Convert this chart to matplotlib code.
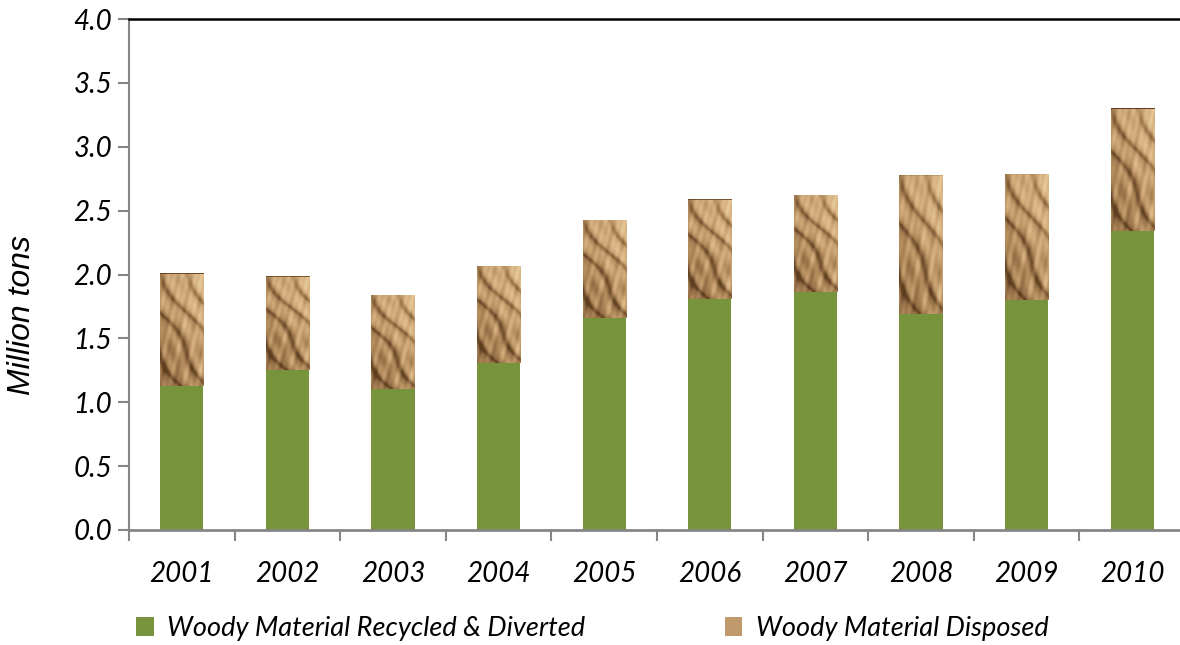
import matplotlib.pyplot as plt
import numpy as np
from matplotlib.colors import LinearSegmentedColormap
from matplotlib.patches import Patch

years = ['2001', '2002', '2003', '2004', '2005', '2006', '2007', '2008', '2009', '2010']
recycled = [1.13, 1.255, 1.10, 1.31, 1.66, 1.81, 1.865, 1.69, 1.80, 2.34]
disposed = [0.88, 0.73, 0.74, 0.76, 0.77, 0.78, 0.76, 1.09, 0.99, 0.96]

green = '#77933C'
grey = '#868686'
tick_font = 'Lato'

# wood-chip style texture for the disposed part of each bar
ty, tx = np.mgrid[0:1:120j, 0:1:45j]
phase = tx - 1.75 * ty + 0.12 * np.sin(9 * ty)
dark = np.exp(-(np.sin(np.pi * 1.6 * phase) / 0.35) ** 2)
base = 0.66 - 0.32 * ty + 0.22 * tx
lumps = 0.14 * np.sin(19 * tx + 3) * np.sin(15 * ty + 1) * (0.4 + ty)
grain = 0.06 * np.sin(40 * (tx + 0.6 * ty)) + 0.05 * np.cos(27 * ty - 11 * tx)
tex = base - 0.38 * dark + lumps + grain
tex[:1, :] = 0.0
wood = LinearSegmentedColormap.from_list(
    'wood', ['#5e3f1f', '#8a6540', '#b08a5a', '#d4ae7e', '#ecd0a0'])

fig = plt.figure(figsize=(11.8, 6.45), dpi=100)
ax = fig.add_axes([0.1093, 0.1783, 0.895, 0.7922])

x = np.arange(len(years))
bars_g = ax.bar(x, recycled, width=0.41, color=green, zorder=2)
bars_d = ax.bar(x, disposed, width=0.41, bottom=recycled, color='none', zorder=2)

for b in bars_d:
    x0, y0 = b.get_x(), b.get_y()
    w, h = b.get_width(), b.get_height()
    im = ax.imshow(tex, cmap=wood, vmin=0, vmax=1, aspect='auto',
                   extent=[x0, x0 + w, y0, y0 + h], interpolation='bilinear',
                   zorder=2)
    im.set_clip_path(b)

ax.set_xlim(-0.5, len(years) - 0.5)
ax.set_ylim(0, 4.0)
ax.set_yticks(np.arange(0, 4.01, 0.5))
ax.set_yticklabels([f'{v:.1f}' for v in np.arange(0, 4.01, 0.5)],
                   fontsize=20, style='italic', family=tick_font)
ax.set_xticks(x)
ax.set_xticklabels(years, fontsize=20, style='italic', family=tick_font)
ax.set_xticks(np.arange(-0.5, len(years), 1), minor=True)
ax.tick_params(axis='x', which='major', length=0, pad=22)
ax.tick_params(axis='x', which='minor', length=8, width=1.5, color=grey, direction='out')
ax.tick_params(axis='y', length=8, width=1.5, color=grey, direction='out', pad=4)

ax.spines['left'].set_color(grey)
ax.spines['left'].set_linewidth(1.5)
ax.spines['bottom'].set_color(grey)
ax.spines['bottom'].set_linewidth(2)
ax.spines['top'].set_color('black')
ax.spines['top'].set_linewidth(1.8)
ax.spines['right'].set_visible(False)

ax.set_ylabel('Million tons', fontsize=23, style='italic', family='Liberation Sans')
ax.yaxis.set_label_coords(-0.087, 0.42)

handles = [Patch(facecolor=green, edgecolor='none'),
           Patch(facecolor='#c09a6c', edgecolor='none')]
fig.legend(handles, ['Woody Material Recycled & Diverted', 'Woody Material Disposed'],
           loc='center', bbox_to_anchor=(0.502, 0.026), ncol=2, frameon=False,
           prop={'family': tick_font, 'style': 'italic', 'size': 19.5},
           handlelength=0.65, handleheight=0.7, handletextpad=0.5, columnspacing=5.15)

fig.savefig('out.png', dpi=100)
